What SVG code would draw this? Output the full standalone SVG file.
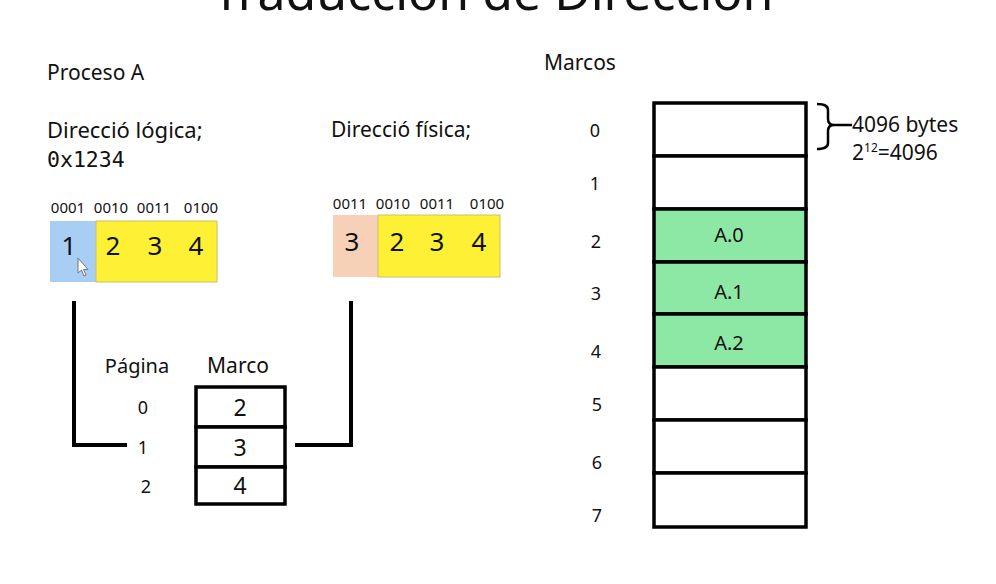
<svg xmlns="http://www.w3.org/2000/svg" width="996" height="584" viewBox="0 0 996 584">
<style>
text{font-family:"Noto Sans","Open Sans","DejaVu Sans",sans-serif;fill:#111}
.t21{font-size:21px}
.lbl{font-size:15px;text-anchor:middle}
.big{font-size:26px;text-anchor:middle}
.mid{font-size:20px;text-anchor:middle}
.val{font-size:23px;text-anchor:middle}
.row{font-size:18px;text-anchor:middle}
.a{font-size:20px;text-anchor:middle}
.cell{stroke:#000;stroke-width:3.5;fill:#fff}
.green{fill:#8de8a6}
.conn{fill:none;stroke:#000;stroke-width:4}
</style>
<rect width="996" height="584" fill="#fff"/>
<text x="493" y="10" font-size="50" text-anchor="middle">Traducción de Dirección</text>

<g id="proceso">
<text class="t21" x="47" y="80">Proceso A</text>
<text x="47" y="138" font-size="22">Direcció lógica;</text>
<text x="47" y="167" font-size="21.5" style="font-family:'DejaVu Sans Mono','Liberation Mono',monospace">0x1234</text>
</g>

<g id="logica">
<text class="lbl" x="68" y="213">0001</text>
<text class="lbl" x="111" y="213">0010</text>
<text class="lbl" x="154" y="213">0011</text>
<text class="lbl" x="201" y="213">0100</text>
<rect x="50" y="221" width="46" height="61" fill="#a9cef4"/>
<rect x="96" y="221" width="121" height="61" fill="#fdf035" stroke="#c9bf6a" stroke-width="1"/>
<text class="big" x="69" y="255">1</text>
<text class="big" x="113" y="255">2</text>
<text class="big" x="155" y="255">3</text>
<text class="big" x="196" y="255">4</text>
<path d="M78 258 L78 273 L81.5 270 L84 276 L86 275 L83.5 269.5 L88 269.5 Z" fill="#fff" stroke="#777" stroke-width="1"/>
</g>

<g id="fisica">
<text class="t21" x="331" y="137">Direcció física;</text>
<text class="lbl" x="350" y="209">0011</text>
<text class="lbl" x="393" y="209">0010</text>
<text class="lbl" x="437" y="209">0011</text>
<text class="lbl" x="487" y="209">0100</text>
<rect x="333" y="215" width="45" height="62" fill="#f6d1b7"/>
<rect x="378" y="215" width="122" height="62" fill="#fdf035" stroke="#c9bf6a" stroke-width="1"/>
<text class="big" x="352" y="251">3</text>
<text class="big" x="397" y="251">2</text>
<text class="big" x="437" y="251">3</text>
<text class="big" x="479" y="251">4</text>
</g>

<g id="tabla">
<text class="mid" x="137" y="373">Página</text>
<text x="238" y="373" font-size="21" text-anchor="middle">Marco</text>
<text class="row" x="143" y="414">0</text>
<text class="row" x="143" y="454">1</text>
<text class="row" x="146" y="493">2</text>
<rect class="cell" x="196" y="387" width="89" height="40"/>
<rect class="cell" x="196" y="427" width="89" height="40"/>
<rect class="cell" x="196" y="467" width="89" height="37"/>
<text class="val" x="240" y="416">2</text>
<text class="val" x="240" y="456">3</text>
<text class="val" x="240" y="494">4</text>
</g>

<g id="connectors">
<path class="conn" d="M74 301 V445 H127"/>
<path class="conn" d="M295 445 H351 V301"/>
</g>

<g id="marcos">
<text class="t21" x="544" y="70">Marcos</text>
<rect class="cell" x="654" y="103" width="152" height="53"/>
<rect class="cell" x="654" y="156" width="152" height="53"/>
<rect class="cell green" x="654" y="209" width="152" height="53"/>
<rect class="cell green" x="654" y="262" width="152" height="52"/>
<rect class="cell green" x="654" y="314" width="152" height="53"/>
<rect class="cell" x="654" y="367" width="152" height="53"/>
<rect class="cell" x="654" y="420" width="152" height="53"/>
<rect class="cell" x="654" y="473" width="152" height="54"/>
<text class="a" x="729" y="242">A.0</text>
<text class="a" x="729" y="299">A.1</text>
<text class="a" x="729" y="350">A.2</text>
<text class="row" x="595" y="137">0</text>
<text class="row" x="595" y="190">1</text>
<text class="row" x="596" y="248">2</text>
<text class="row" x="596" y="300">3</text>
<text class="row" x="596" y="358">4</text>
<text class="row" x="597" y="411">5</text>
<text class="row" x="597" y="469">6</text>
<text class="row" x="597" y="522">7</text>
</g>

<g id="bytes">
<path d="M817 104 Q828 104 828 110 V119 Q828 125 834 125 H852 M834 125 Q828 125 828 131 V143 Q828 149 817 149" fill="none" stroke="#000" stroke-width="2.5"/>
<text x="852" y="132" font-size="21">4096 bytes</text>
<text x="852" y="160" font-size="21">2<tspan font-size="12" dy="-8">12</tspan><tspan dy="8">=4096</tspan></text>
</g>
</svg>
